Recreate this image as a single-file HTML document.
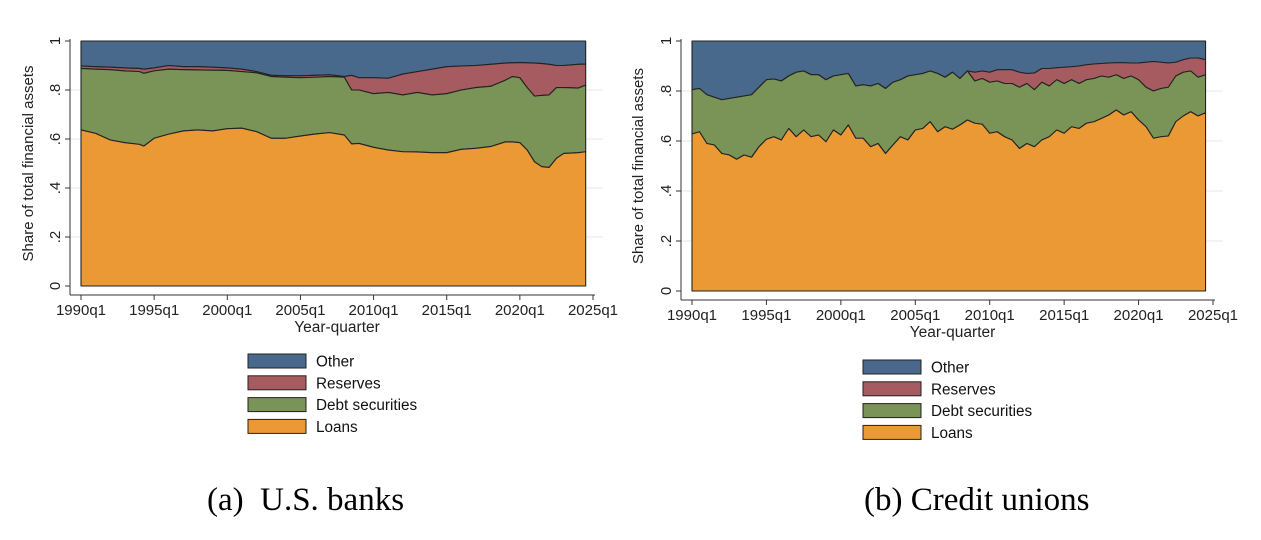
<!DOCTYPE html>
<html><head><meta charset="utf-8">
<style>
html,body{margin:0;padding:0;background:#fff;}
body{width:1261px;height:535px;overflow:hidden;position:relative;font-family:"Liberation Sans",sans-serif;}
svg text{font-family:"Liberation Sans",sans-serif;}
.cap{position:absolute;top:480px;font-family:"Liberation Serif",serif;font-size:33px;color:#000;line-height:40px;}
</style></head>
<body>
<svg id="chart" width="1261" height="535"></svg>
<div class="cap" style="left:207px">(a)&nbsp; U.S. banks</div>
<div class="cap" style="left:864px">(b) Credit unions</div>
<script>
// ---- Panel A: U.S. banks (cumulative boundary shares) ----
const bankYears = [1990,1991,1992,1993,1994,1994.3,1995,1996,1997,1998,1999,2000,2001,2002,2003,2004,2005,2006,2007,2008,2008.5,2009,2010,2011,2012,2013,2014,2015,2016,2017,2018,2019,2019.5,2020,2020.5,2021,2021.5,2022,2022.5,2023,2024,2024.5];
const bankLoans = [.637,.623,.596,.585,.578,.571,.603,.62,.633,.637,.633,.642,.644,.63,.603,.603,.612,.62,.626,.616,.58,.582,.566,.555,.548,.547,.544,.544,.558,.562,.569,.588,.588,.585,.555,.507,.487,.484,.521,.541,.544,.548];
const bankSecCum = [.888,.885,.883,.878,.875,.868,.878,.885,.883,.882,.881,.88,.875,.87,.855,.852,.85,.852,.855,.852,.80,.80,.785,.79,.78,.79,.78,.785,.80,.81,.815,.84,.855,.85,.81,.775,.778,.78,.81,.81,.808,.82];
const bankResCum = [.898,.895,.893,.89,.888,.885,.89,.9,.895,.895,.893,.89,.885,.875,.86,.858,.858,.86,.862,.855,.86,.85,.85,.848,.865,.875,.885,.895,.898,.9,.905,.91,.911,.912,.911,.91,.908,.905,.9,.9,.905,.906];

// ---- Panel B: Credit unions ----
const cuYears = [1990,1990.5,1991,1991.5,1992,1992.5,1993,1993.5,1994,1994.5,1995,1995.5,1996,1996.5,1997,1997.5,1998,1998.5,1999,1999.5,2000,2000.5,2001,2001.5,2002,2002.5,2003,2003.5,2004,2004.5,2005,2005.5,2006,2006.5,2007,2007.5,2008,2008.5,2009,2009.5,2010,2010.5,2011,2011.5,2012,2012.5,2013,2013.5,2014,2014.5,2015,2015.5,2016,2016.5,2017,2017.5,2018,2018.5,2019,2019.5,2020,2020.5,2021,2021.5,2022,2022.5,2023,2023.5,2024,2024.5];
const cuLoans = [.628,.637,.59,.584,.55,.544,.527,.544,.535,.577,.607,.617,.604,.65,.617,.644,.617,.624,.597,.644,.624,.664,.611,.611,.577,.59,.55,.584,.617,.604,.644,.65,.677,.637,.657,.647,.664,.684,.671,.667,.631,.637,.617,.604,.57,.59,.577,.604,.617,.644,.631,.657,.65,.671,.677,.69,.704,.724,.704,.717,.684,.657,.611,.617,.62,.677,.70,.717,.70,.713];
const cuSecCum = [.805,.81,.785,.775,.765,.77,.775,.78,.785,.815,.845,.848,.84,.86,.875,.88,.865,.865,.845,.86,.865,.87,.82,.825,.82,.83,.81,.835,.845,.86,.865,.87,.88,.87,.855,.875,.85,.88,.84,.85,.835,.84,.83,.83,.815,.83,.805,.835,.82,.845,.83,.845,.83,.845,.85,.86,.855,.865,.85,.86,.845,.815,.80,.81,.815,.86,.875,.88,.855,.865];
const cuResCum = [.805,.81,.785,.775,.765,.77,.775,.78,.785,.815,.845,.848,.84,.86,.875,.88,.865,.865,.845,.86,.865,.87,.82,.825,.82,.83,.81,.835,.845,.86,.865,.87,.88,.87,.855,.875,.85,.88,.875,.88,.875,.885,.885,.885,.875,.87,.872,.89,.89,.893,.895,.897,.9,.905,.908,.91,.912,.913,.913,.912,.912,.915,.918,.915,.912,.915,.925,.932,.932,.925];

const yTicks = [0,.2,.4,.6,.8,1];
const yTickLabels = ["0",".2",".4",".6",".8","1"];
const xTicks = [1990,1995,2000,2005,2010,2015,2020,2025];
const xTickLabels = ["1990q1","1995q1","2000q1","2005q1","2010q1","2015q1","2020q1","2025q1"];
const legendLabels = ["Other","Reserves","Debt securities","Loans"];
const COLORS = {other:"#48698c",res:"#a55b5f",sec:"#7a9357",loans:"#ea9934"};
const legendColors = [COLORS.other,COLORS.res,COLORS.sec,COLORS.loans];

const NS="http://www.w3.org/2000/svg";
const svg=document.getElementById('chart');
function mk(tag,attrs,parent){const e=document.createElementNS(NS,tag);for(const k in attrs)e.setAttribute(k,attrs[k]);(parent||svg).appendChild(e);return e;}

function panel(p, years, loans, secCum, resCum, id){
  const xs=v=>p.x0+(v-1990)/(2025-1990)*(p.x1-p.x0);
  const ys=v=>p.y0-(v)*(p.y0-p.yTop);
  const g=mk('g',{});
  
  
  yTicks.forEach(t=>{ if(t>0&&t<1){const l=mk('line',{x1:p.axX,x2:p.x1+10,y1:ys(t),y2:ys(t),stroke:'#eaf2f3','stroke-width':1.5},g);
    }});
  function area(top,bottom,color,name){
    let d='M'+years.map((y,i)=>xs(y)+','+ys(top[i])).join(' L');
    for(let i=years.length-1;i>=0;i--) d+=' L'+xs(years[i])+','+ys(bottom?bottom[i]:0);
    const a=mk('path',{d:d+'Z',fill:color,stroke:'#222','stroke-width':1.1,'stroke-linejoin':'round'},g);
    
    
  }
  const ones=years.map(()=>1);
  area(ones,resCum,COLORS.other,'area-other');
  area(resCum,secCum,COLORS.res,'area-reserves');
  area(secCum,loans,COLORS.sec,'area-debt-securities');
  area(loans,null,COLORS.loans,'area-loans');
  const ya=mk('line',{x1:p.axX,x2:p.axX,y1:ys(1)-2,y2:p.axY,stroke:'#333','stroke-width':1},g);
  
  const xa=mk('line',{x1:p.axX,x2:xs(2025)+2,y1:p.axY,y2:p.axY,stroke:'#333','stroke-width':1},g);
  
  yTicks.forEach((t,i)=>{
    mk('line',{x1:p.axX-5,x2:p.axX,y1:ys(t),y2:ys(t),stroke:'#333'},g);
    const tx=mk('text',{x:p.axX-10,y:ys(t),'font-size':15,fill:'#222','text-anchor':'middle',transform:`rotate(-90 ${p.axX-10} ${ys(t)})`},g);
    tx.textContent=yTickLabels[i];
    
  });
  xTicks.forEach((t,i)=>{
    mk('line',{x1:xs(t),x2:xs(t),y1:p.axY,y2:p.axY+5,stroke:'#333'},g);
    const tx=mk('text',{x:xs(t),y:p.axY+20,'font-size':15,fill:'#222','text-anchor':'middle'},g);
    tx.textContent=xTickLabels[i];
    
  });
  const xt=mk('text',{x:(xs(1990)+xs(2025))/2,y:p.axY+37,'font-size':15.5,fill:'#222','text-anchor':'middle'},g);
  xt.textContent='Year-quarter';
  
  const yc=(ys(0)+ys(1))/2;
  const yt=mk('text',{x:p.titleX,y:yc,'font-size':15,fill:'#222','text-anchor':'middle',transform:`rotate(-90 ${p.titleX} ${yc})`},g);
  yt.textContent='Share of total financial assets';
  
  legendLabels.forEach((lab,i)=>{
    const yy=p.legY+i*21.8;
    const r=mk('rect',{x:p.legX,y:yy,width:58,height:14,fill:legendColors[i],stroke:'#222','stroke-width':1},g);
    
    const t=mk('text',{x:p.legX+68,y:yy+12.5,'font-size':15.3,fill:'#111'},g);
    t.textContent=lab;
    
  });
}
panel({x0:81,x1:593,y0:286,yTop:41,axX:70,axY:295,titleX:33,legX:248,legY:354},bankYears,bankLoans,bankSecCum,bankResCum,'us-banks');
panel({x0:692,x1:1213,y0:291,yTop:41,axX:681,axY:300,titleX:643,legX:863,legY:360},cuYears,cuLoans,cuSecCum,cuResCum,'credit-unions');
</script>
</body></html>
